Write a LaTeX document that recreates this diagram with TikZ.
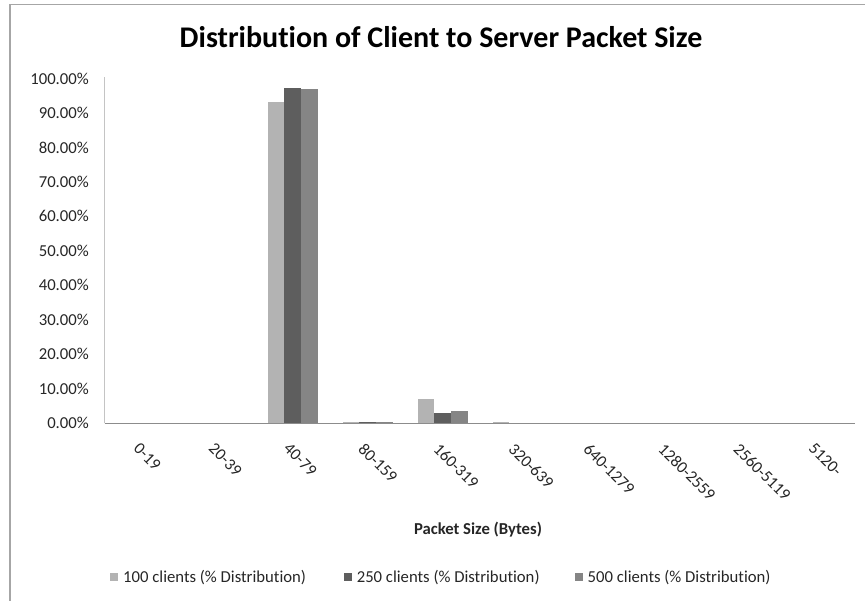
\documentclass[tikz,border=0pt]{standalone}
\usepackage{fontspec}
\setmainfont{Carlito}[Ligatures={NoCommon}, RawFeature={-liga}]
\definecolor{sA}{HTML}{B3B3B3}
\definecolor{sB}{HTML}{5E5E5E}
\definecolor{sC}{HTML}{858585}
\definecolor{frame}{HTML}{A6A6A6}
\definecolor{yax}{HTML}{C4C4C4}
\definecolor{xax}{HTML}{8C8C8C}
\definecolor{txt}{HTML}{262626}
\tikzset{
  lbl/.style={inner sep=0pt, text=txt, font=\fontsize{16.7}{20}\selectfont},
  ylbl/.style={lbl, anchor=east},
  xlbl/.style={lbl, anchor=north west, rotate=-45},
  ttl/.style={inner sep=0pt, anchor=base, font=\fontsize{30}{36}\selectfont\bfseries},
  legsq/.style={inner sep=0pt, minimum size=8pt},
}
\begin{document}
\begin{tikzpicture}[x=1pt, y=-1pt]
\useasboundingbox (0,0) rectangle (865,600);
% frame
\draw[frame, line width=1.3pt] (10,610) -- (10,4.7) -- (875,4.7);
% title
\node[ttl] (title) at (441,47) {Distribution of Client to Server Packet Size};
% axes
\coordinate (o) at (104.5,423.3);
\coordinate (ytop) at (104.5,77);
\coordinate (xend) at (855,423.3);
\draw[yax, line width=1pt] (o) -- (ytop);
% y labels
\foreach \v in {0,10,...,100} {
  \node[ylbl] (y\v) at (89,{423-3.445*\v}) {\v.00\%};
}
% bars
\def\bars#1#2#3#4{%
  \pgfmathsetmacro\c{105+75*(#1+0.5)}%
  \fill[sA] ({\c-25},423.3) rectangle ({\c-8.33},{423.3-3.445*#2});
  \fill[sB] ({\c-8.33},423.3) rectangle ({\c+8.33},{423.3-3.445*#3});
  \fill[sC] ({\c+8.33},423.3) rectangle ({\c+25},{423.3-3.445*#4});
}
\bars{2}{93.3}{97.4}{97.0}
\bars{3}{0.35}{0.5}{0.45}
\bars{4}{7.05}{3.1}{3.6}
\bars{5}{0.35}{0}{0}
\draw[xax, line width=1pt] (o) -- (xend);
% x labels
\foreach \i/\t in {0/0-19,1/20-39,2/40-79,3/80-159,4/160-319,5/320-639,6/640-1279,7/1280-2559,8/2560-5119,9/5120-} {
  \node[xlbl] (x\i) at ({105+75*(\i+0.5)-2},442) {\t};
}
% axis title
\node[lbl, anchor=base, font=\fontsize{16.7}{20}\selectfont\bfseries] (xt) at (478,534) {Packet Size (Bytes)};
% legend
\node[legsq, fill=sA] (l1) at (114,577) {};
\node[lbl, anchor=base west] (t1) at (123,582.4) {100 clients (\% Distribution)};
\node[legsq, fill=sB] (l2) at (347.6,577) {};
\node[lbl, anchor=base west] (t2) at (356.6,582.4) {250 clients (\% Distribution)};
\node[legsq, fill=sC] (l3) at (578.5,577) {};
\node[lbl, anchor=base west] (t3) at (587.5,582.4) {500 clients (\% Distribution)};
\end{tikzpicture}
\end{document}
